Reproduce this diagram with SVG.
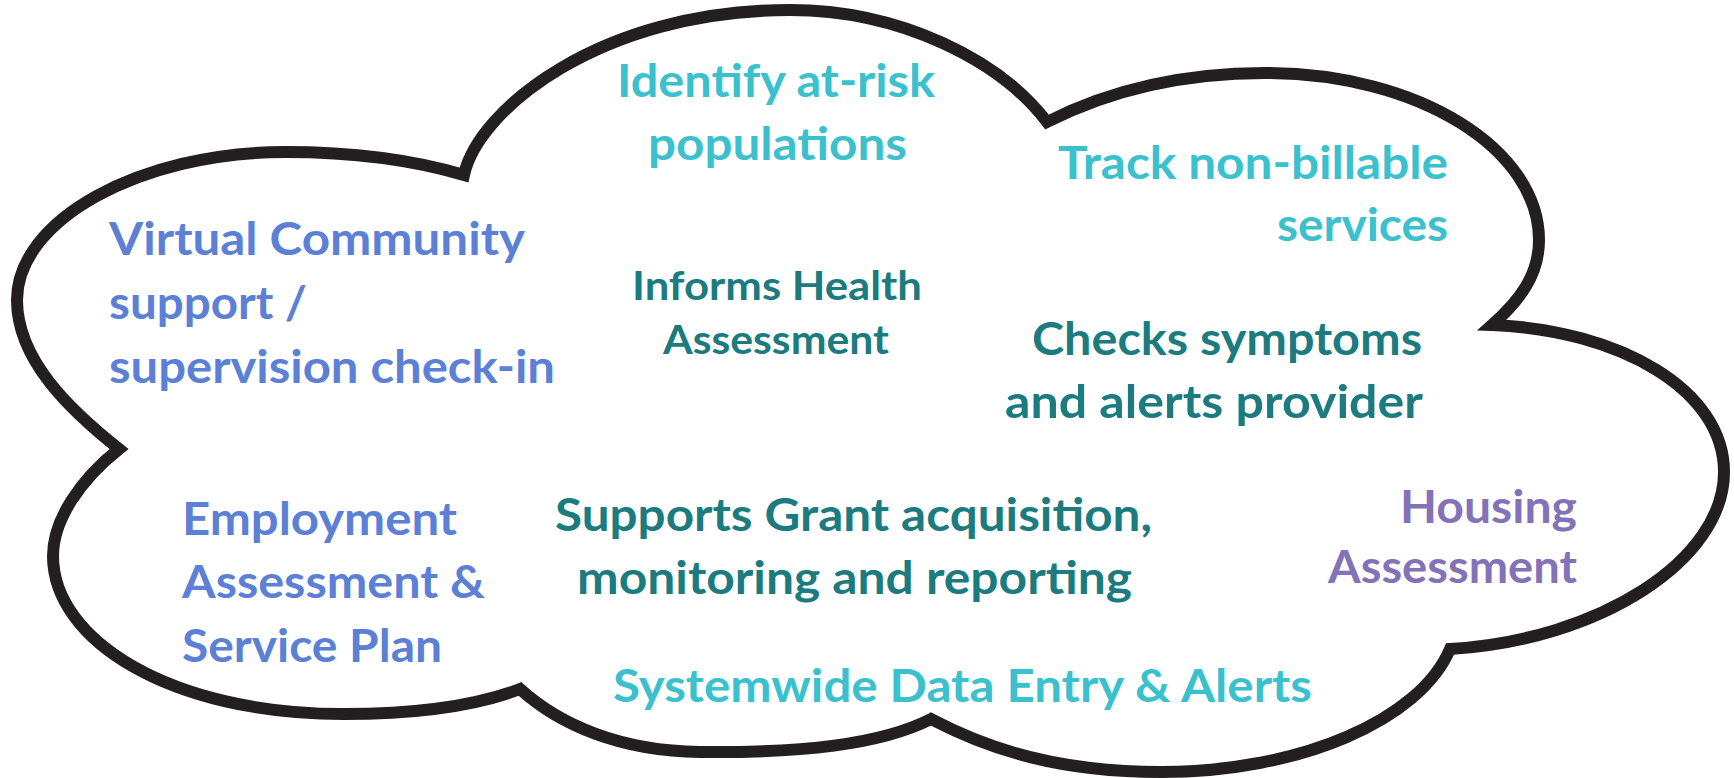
<svg xmlns="http://www.w3.org/2000/svg" width="1734" height="778" viewBox="0 0 1734 778">
<style>
  .cloud { fill: #ffffff; stroke: #231f20; stroke-width: 12; stroke-linejoin: miter; stroke-miterlimit: 10; }
  text { font-family: Lato, "Open Sans", "Liberation Sans", sans-serif; font-weight: 700; }
  .big { font-size: 46px; }
  .small { font-size: 39.5px; }
  .cyan { fill: #3bc0ce; }
  .blue { fill: #5b80d6; }
  .teal { fill: #1b7b7e; }
  .purple { fill: #8472b9; }
</style>
<rect width="1734" height="778" fill="#ffffff"/>
<g id="cloud">
  <path class="cloud" d="M 119 449 C 70 410, 17 360, 17 300 C 17 220, 140 152, 285 152 C 360 152, 420 162, 464 175 C 478 110, 600 10, 790 10 C 900 10, 1000 60, 1047 122 C 1110 90, 1180 73, 1265 73 C 1420 73, 1539 150, 1539 240 C 1539 275, 1520 300, 1492 325 C 1620 330, 1724 390, 1724 472 C 1724 560, 1600 640, 1450 649 C 1420 720, 1300 772, 1161 772 C 1060 772, 990 750, 931 719 C 880 745, 800 753, 700 752 C 620 751, 560 725, 520 689 C 470 708, 410 714, 343 714 C 170 714, 53 640, 53 556 C 53 520, 80 480, 119 449 Z"/>
</g>
<g id="identify">
  <text class="big cyan" x="617" y="97" textLength="318" lengthAdjust="spacingAndGlyphs">Identify at-risk</text>
  <text class="big cyan" x="648" y="160" textLength="259" lengthAdjust="spacingAndGlyphs">populations</text>
</g>
<g id="track">
  <text class="big cyan" x="1058" y="179" textLength="390" lengthAdjust="spacingAndGlyphs">Track non-billable</text>
  <text class="big cyan" x="1277" y="241" textLength="171" lengthAdjust="spacingAndGlyphs">services</text>
</g>
<g id="virtual">
  <text class="big blue" x="109" y="255" textLength="416" lengthAdjust="spacingAndGlyphs">Virtual Community</text>
  <text class="big blue" x="109" y="319" textLength="198" lengthAdjust="spacingAndGlyphs">support /</text>
  <text class="big blue" x="109" y="383" textLength="446" lengthAdjust="spacingAndGlyphs">supervision check-in</text>
</g>
<g id="informs">
  <text class="small teal" x="632" y="300" textLength="290" lengthAdjust="spacingAndGlyphs">Informs Health</text>
  <text class="small teal" x="663" y="354" textLength="226" lengthAdjust="spacingAndGlyphs">Assessment</text>
</g>
<g id="checks">
  <text class="big teal" x="1032" y="355" textLength="390" lengthAdjust="spacingAndGlyphs">Checks symptoms</text>
  <text class="big teal" x="1005" y="418" textLength="418" lengthAdjust="spacingAndGlyphs">and alerts provider</text>
</g>
<g id="employment">
  <text class="big blue" x="182" y="535" textLength="275" lengthAdjust="spacingAndGlyphs">Employment</text>
  <text class="big blue" x="182" y="598" textLength="303" lengthAdjust="spacingAndGlyphs">Assessment &amp;</text>
  <text class="big blue" x="182" y="662" textLength="260" lengthAdjust="spacingAndGlyphs">Service Plan</text>
</g>
<g id="supports">
  <text class="big teal" x="555" y="531" textLength="597" lengthAdjust="spacingAndGlyphs">Supports Grant acquisition,</text>
  <text class="big teal" x="577" y="594" textLength="555" lengthAdjust="spacingAndGlyphs">monitoring and reporting</text>
</g>
<g id="housing">
  <text class="big purple" x="1400" y="523" textLength="177" lengthAdjust="spacingAndGlyphs">Housing</text>
  <text class="big purple" x="1328" y="583" textLength="249" lengthAdjust="spacingAndGlyphs">Assessment</text>
</g>
<g id="systemwide">
  <text class="big cyan" x="613" y="702" textLength="699" lengthAdjust="spacingAndGlyphs">Systemwide Data Entry &amp; Alerts</text>
</g>
<g id="connectors"></g>
</svg>
